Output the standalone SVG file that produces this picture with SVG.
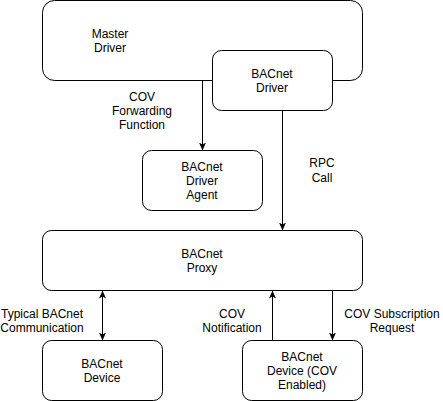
<svg xmlns="http://www.w3.org/2000/svg" width="443" height="401" viewBox="0 0 443 401">
<defs>
<style>
.box{fill:#fff;stroke:#000;stroke-width:1}
.ln{fill:none;stroke:#000;stroke-width:1}
text{font-family:"Liberation Sans",Arial,Helvetica,sans-serif;font-size:12px;fill:#000;text-anchor:middle}
</style>
<marker id="ah" markerWidth="8" markerHeight="8" viewBox="0 0 8 8" refX="7.5" refY="4" orient="auto-start-reverse" markerUnits="userSpaceOnUse">
<path d="M0,0.5 L8,4 L0,7.5 L2,4 Z" fill="#000"/>
</marker>
</defs>
<rect width="443" height="401" fill="#fff"/>
<g id="master-driver">
<rect class="box" x="42.5" y="0.5" width="320" height="80" rx="12"/>
<text x="110" y="38">Master</text>
<text x="110" y="52">Driver</text>
</g>
<g id="bacnet-driver">
<rect class="box" x="212.5" y="50.5" width="120" height="60" rx="9"/>
<text x="272" y="78">BACnet</text>
<text x="272" y="92">Driver</text>
</g>
<g id="bacnet-driver-agent">
<rect class="box" x="142.5" y="150.5" width="120" height="60" rx="9"/>
<text x="202" y="171">BACnet</text>
<text x="202" y="185">Driver</text>
<text x="202" y="199">Agent</text>
</g>
<g id="bacnet-proxy">
<rect class="box" x="42.5" y="230.5" width="320" height="60" rx="9"/>
<text x="202" y="258">BACnet</text>
<text x="202" y="272">Proxy</text>
</g>
<g id="bacnet-device">
<rect class="box" x="42.5" y="340.5" width="120" height="60" rx="9"/>
<text x="102" y="368">BACnet</text>
<text x="102" y="382">Device</text>
</g>
<g id="bacnet-device-cov">
<rect class="box" x="242.5" y="340.5" width="120" height="60" rx="9"/>
<text x="302" y="361">BACnet</text>
<text x="302" y="375">Device (COV</text>
<text x="302" y="389">Enabled)</text>
</g>
<g id="connectors">
<path class="ln" d="M202.5,80.5 L202.5,150" marker-end="url(#ah)"/>
<path class="ln" d="M282.5,110.5 L282.5,230" marker-end="url(#ah)"/>
<path class="ln" d="M102.5,291 L102.5,340" marker-start="url(#ah)" marker-end="url(#ah)"/>
<path class="ln" d="M272.5,340.5 L272.5,291" marker-end="url(#ah)"/>
<path class="ln" d="M332.5,290.5 L332.5,340" marker-end="url(#ah)"/>
<text x="142" y="101">COV</text>
<text x="142" y="115">Forwarding</text>
<text x="142" y="129">Function</text>
<text x="322" y="167">RPC</text>
<text x="322" y="182">Call</text>
<text x="42" y="318">Typical BACnet</text>
<text x="42" y="332">Communication</text>
<text x="232" y="318">COV</text>
<text x="232" y="332">Notification</text>
<text x="392" y="318">COV Subscription</text>
<text x="392" y="332">Request</text>
</g>
</svg>
